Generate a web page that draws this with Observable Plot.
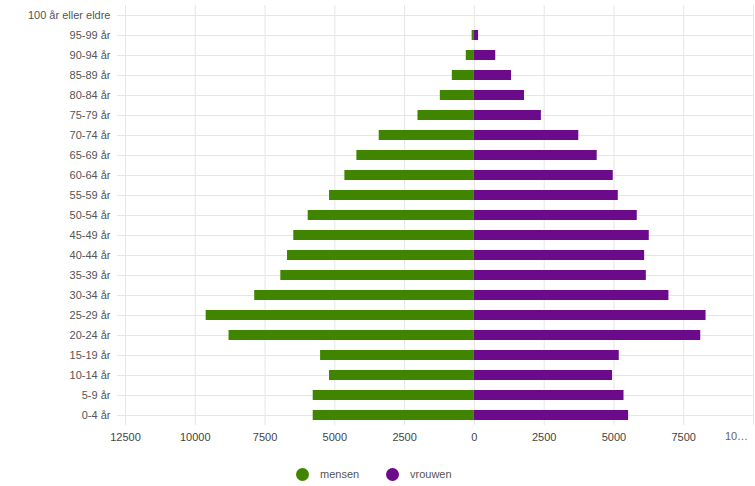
<!DOCTYPE html>
<html><head><meta charset="utf-8">
<script src="https://cdn.jsdelivr.net/npm/d3@7"></script>
<script src="https://cdn.jsdelivr.net/npm/@observablehq/plot@0.6"></script>
<style>
body{margin:0;background:#fff;font-family:"Liberation Sans",Arial,sans-serif;}
#chart svg{display:block;}
#legend{position:relative;height:31px;width:755px;font-size:11px;color:#555;}
#legend .dot{position:absolute;width:13px;height:13px;border-radius:50%;top:13px;}
#legend .lab{position:absolute;top:13px;line-height:13px;}
</style></head><body><div id="chart"></div><div id="legend"></div>
<script>
const ages = ["0-4 år","5-9 år","10-14 år","15-19 år","20-24 år","25-29 år","30-34 år","35-39 år","40-44 år","45-49 år","50-54 år","55-59 år","60-64 år","65-69 år","70-74 år","75-79 år","80-84 år","85-89 år","90-94 år","95-99 år","100 år eller eldre"];
const mensen  = [5775,5775,5190,5510,8790,9610,7870,6935,6695,6470,5955,5190,4640,4210,3410,2020,1220,790,290,80,0];
const vrouwen = [5525,5360,4950,5190,8110,8300,6970,6160,6100,6265,5835,5155,4975,4400,3740,2400,1795,1330,765,150,0];
const seriesNames = ["mensen","vrouwen"];
const seriesColors = ["#3f8500","#6b0a8a"];
const xTicks = [-12500,-10000,-7500,-5000,-2500,0,2500,5000,7500,10000];
const truncatedLabel = "10…";

const rows = ages.flatMap((a,i)=>[
  {age:a, sex:seriesNames[0], value:-mensen[i]},
  {age:a, sex:seriesNames[1], value:vrouwen[i]}
]);

const plot = Plot.plot({
  width:755, height:455,
  marginLeft:125, marginRight:2, marginTop:5, marginBottom:30,
  style:{fontFamily:"Liberation Sans, Arial, sans-serif", fontSize:"11px", background:"#fff", color:"#555"},
  x:{domain:[-12500,10000]},
  y:{domain:ages.slice().reverse(), paddingInner:0.5, paddingOuter:0.25},
  color:{domain:seriesNames, range:seriesColors},
  marks:[
    Plot.gridX(xTicks, {stroke:"#e6e6e6", strokeOpacity:1}),
    Plot.gridY({stroke:"#e6e6e6", strokeOpacity:1}),
    Plot.axisY({tickSize:8, tickPadding:7, stroke:"#e6e6e6", fill:"#555", label:null, fontSize:11}),
    Plot.axisX(xTicks.slice(0,-1), {tickSize:0, tickPadding:8, tickFormat:d=>String(Math.abs(d)), fill:"#444", label:null, fontSize:11}),
    Plot.text([truncatedLabel], {x:()=>xTicks[xTicks.length-1], frameAnchor:"bottom", dy:14, dx:-17, fill:"#666", fontSize:11}),
    Plot.barX(rows.filter(d=>d.value!==0), {x:"value", y:"age", fill:"sex"})
  ]
});
document.getElementById("chart").appendChild(plot);

const legend = document.getElementById("legend");
const pos = [{dot:296, lab:320},{dot:386, lab:410}];
seriesNames.forEach((n,i)=>{
  const d = document.createElement("div"); d.className="dot";
  d.style.left = pos[i].dot+"px"; d.style.background = seriesColors[i];
  const l = document.createElement("div"); l.className="lab";
  l.style.left = pos[i].lab+"px"; l.textContent = n;
  legend.appendChild(d); legend.appendChild(l);
});
</script>
</body></html>
